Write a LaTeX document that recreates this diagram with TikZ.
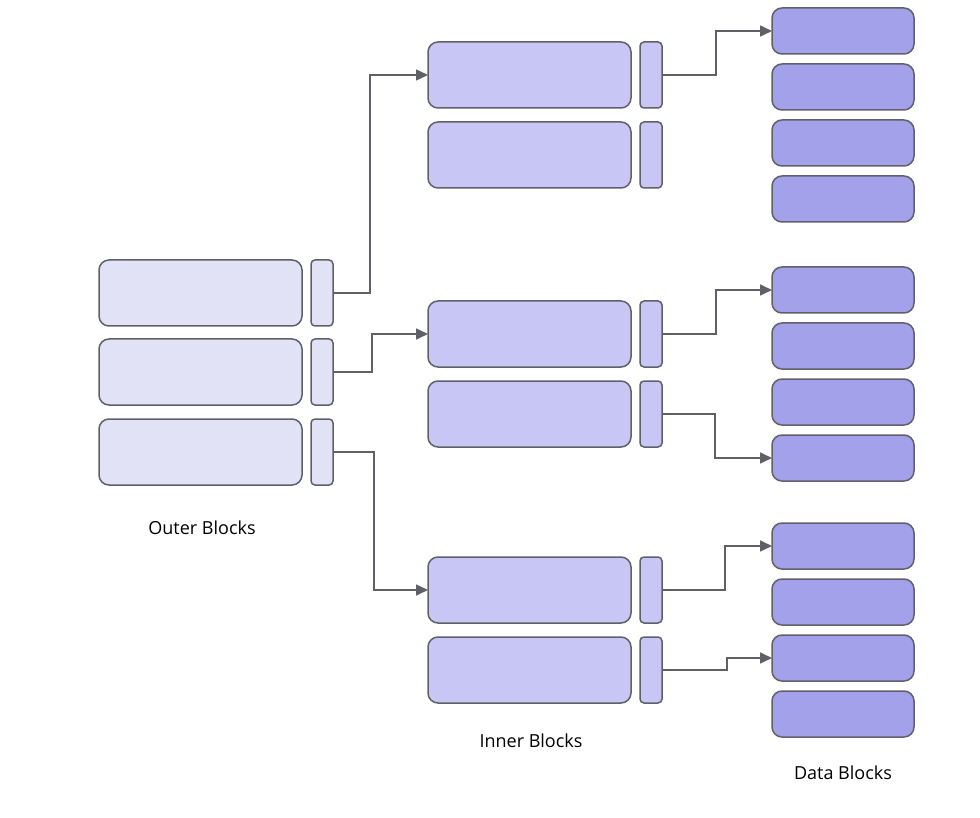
\documentclass[tikz,border=0pt]{standalone}
\usepackage{fontspec}
\setmainfont{Open Sans}
\usetikzlibrary{arrows.meta}
\definecolor{outerc}{HTML}{E2E2F7}
\definecolor{innerc}{HTML}{C8C6F5}
\definecolor{datac}{HTML}{A4A1EB}
\definecolor{edge}{HTML}{606068}
\begin{document}
\begin{tikzpicture}[x=1pt,y=-1pt,
  blk/.style={draw=edge,line width=1.5pt,rounded corners=10pt},
  sm/.style={draw=edge,line width=1.5pt,rounded corners=4pt},
  ar/.style={draw=edge,line width=1.5pt,-{Triangle[length=12pt,width=11pt]}},
  lab/.style={font=\fontsize{18}{20}\selectfont,text=black}]
\useasboundingbox (0,0) rectangle (980,818);
% outer
\foreach \i/\y in {1/260,2/339,3/419}{
  \path[blk,fill=outerc] (99,\y) rectangle (302,\y+66);
  \path[sm,fill=outerc] (311,\y) rectangle (333,\y+66);
  \coordinate (os\i) at (333,\y+33);
}
% inner
\foreach \i/\y in {1/42,2/122,3/301,4/381,5/557,6/637}{
  \path[blk,fill=innerc] (428,\y) rectangle (631,\y+66);
  \path[sm,fill=innerc] (640,\y) rectangle (662,\y+66);
  \coordinate (ib\i) at (428,\y+33);
  \coordinate (is\i) at (662,\y+33);
}
% data
\foreach \i/\y in {1/8,2/64,3/120,4/176,5/267,6/323,7/379,8/435,9/523,10/579,11/635,12/691}{
  \path[blk,fill=datac] (772,\y) rectangle (914,\y+46);
  \coordinate (d\i) at (772,\y+23);
}
\draw[ar] (os1) -| (370,75) -- (ib1);
\draw[ar] (os2) -| (372,334) -- (ib3);
\draw[ar] (os3) -| (374,590) -- (ib5);
\draw[ar] (is1) -| (716,31) -- (d1);
\draw[ar] (is3) -| (716,290) -- (d5);
\draw[ar] (is4) -| (715,458) -- (d8);
\draw[ar] (is5) -| (725,546) -- (d9);
\draw[ar] (is6) -| (727,658) -- (d11);
\node[lab] (lo) at (202,528) {Outer Blocks};
\node[lab] (li) at (531,741) {Inner Blocks};
\node[lab] (ld) at (843,773) {Data Blocks};
\end{tikzpicture}
\end{document}
